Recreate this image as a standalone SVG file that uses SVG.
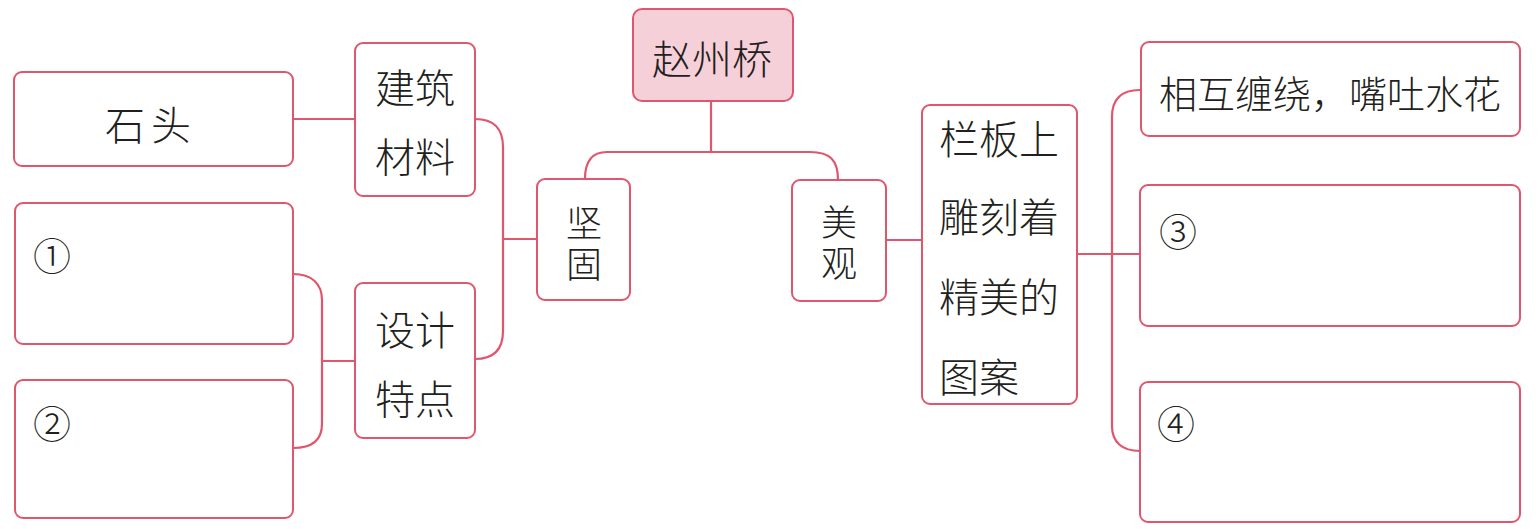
<svg xmlns="http://www.w3.org/2000/svg" width="1538" height="529" viewBox="0 0 1538 529">
<style>
.box{fill:#ffffff;stroke:#e0566c;stroke-width:2}
.root{fill:#f6d0d8;stroke:#e0566c;stroke-width:2}
.c{fill:none;stroke:#e0566c;stroke-width:2.2}
.t{font-family:"Noto Sans CJK SC","Noto Sans",sans-serif;font-weight:300;font-size:40px;fill:#231f20;dominant-baseline:central}
.m{text-anchor:middle}
.s{font-size:36px}
.n{font-family:"Noto Sans CJK SC","DejaVu Serif",serif;font-weight:300;font-size:38px;fill:#231f20;dominant-baseline:central;text-anchor:middle}
</style>
<rect width="1538" height="529" fill="#ffffff"/>
<g id="connectors">
<path class="c" d="M711,101 V152"/>
<path class="c" d="M838,180 C838,160 830,152 810,152 H607 C592,152 585,162 585,179"/>
<path class="c" d="M293,119 H355"/>
<path class="c" d="M475,119 C495,119 503,130 503,147 V331 C503,350 493,359 475,359"/>
<path class="c" d="M503,239 H537"/>
<path class="c" d="M293,274 C312,274 322,284 322,300 V424 C322,440 312,448 293,448"/>
<path class="c" d="M322,361 H355"/>
<path class="c" d="M886,240 H922"/>
<path class="c" d="M1077,254 H1140"/>
<path class="c" d="M1140,90 C1120,90 1112,100 1112,117 V426 C1112,442 1122,451 1140,451"/>
</g>
<g id="n-root"><rect class="root" x="633" y="9" width="160" height="92" rx="9"/><text class="t m" x="712" y="57">赵州桥</text></g>
<g id="n-jiangu"><rect class="box" x="537" y="179" width="93" height="121" rx="8"/><text class="t m s"><tspan x="584" y="221">坚</tspan><tspan x="584" y="262">固</tspan></text></g>
<g id="n-meiguan"><rect class="box" x="792" y="180" width="94" height="121" rx="8"/><text class="t m s"><tspan x="839" y="220">美</tspan><tspan x="839" y="261">观</tspan></text></g>
<g id="n-cailiao"><rect class="box" x="355" y="43" width="120" height="153" rx="8"/><text class="t m" x="415" y="86">建筑</text><text class="t m" x="415" y="155">材料</text></g>
<g id="n-sheji"><rect class="box" x="355" y="283" width="120" height="155" rx="8"/><text class="t m" x="415" y="328">设计</text><text class="t m" x="415" y="397">特点</text></g>
<g id="n-shitou"><rect class="box" x="14" y="72" width="279" height="94" rx="8"/><text class="t m" x="151" y="123" style="letter-spacing:6px">石头</text></g>
<g id="n-1"><rect class="box" x="15" y="203" width="278" height="141" rx="8"/><text class="n" x="52" y="253">①</text></g>
<g id="n-2"><rect class="box" x="15" y="380" width="278" height="138" rx="8"/><text class="n" x="52" y="421">②</text></g>
<g id="n-langban"><rect class="box" x="922" y="105" width="155" height="299" rx="8"/><text class="t" x="939" y="137">栏板上</text><text class="t" x="939" y="215">雕刻着</text><text class="t" x="939" y="295">精美的</text><text class="t" x="939" y="375">图案</text></g>
<g id="n-chanrao"><rect class="box" x="1141" y="42" width="379" height="94" rx="8"/><text class="t" x="1159" y="91" style="font-size:38px">相互缠绕，嘴吐水花</text></g>
<g id="n-3"><rect class="box" x="1140" y="185" width="380" height="141" rx="8"/><text class="n" x="1178" y="229">③</text></g>
<g id="n-4"><rect class="box" x="1140" y="382" width="380" height="140" rx="8"/><text class="n" x="1176" y="421">④</text></g>
</svg>
